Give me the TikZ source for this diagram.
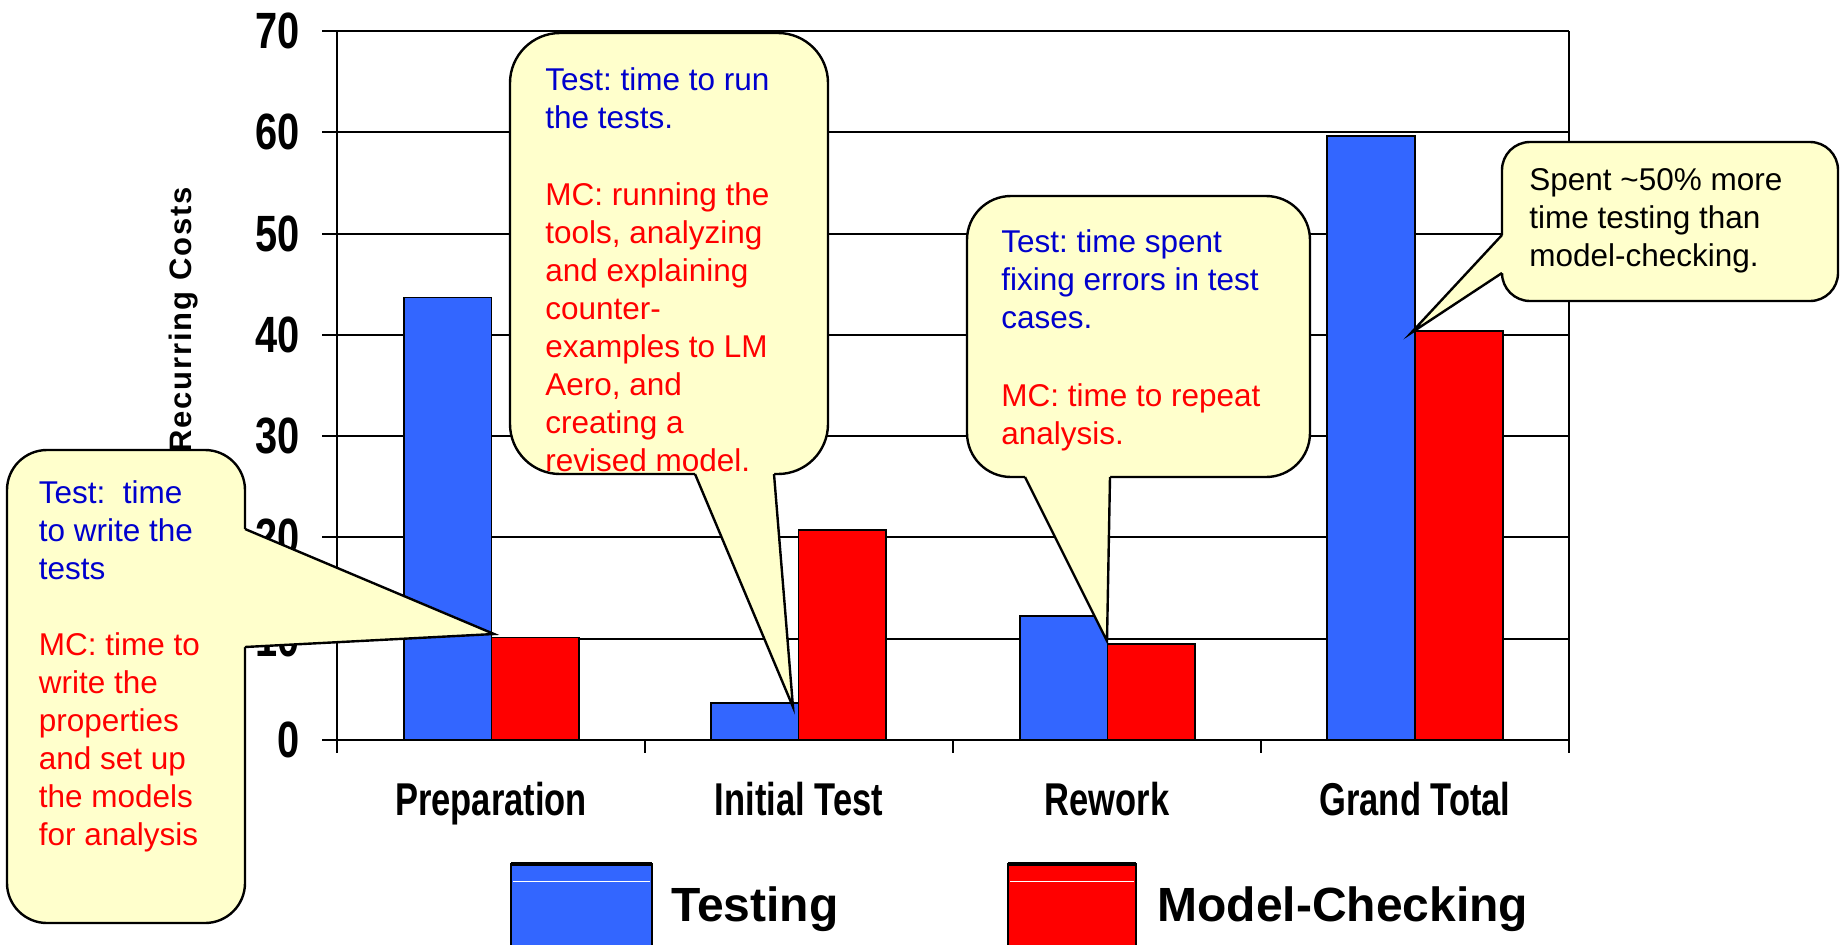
\documentclass[tikz,border=0pt]{standalone}
\usepackage{fontspec}
\setmainfont{Liberation Sans}
\newfontfamily\ylabfont{Liberation Sans}[FakeStretch=0.78]
\newfontfamily\catfont{Liberation Sans}[FakeStretch=0.75]
\newfontfamily\titlefont{Liberation Sans}[LetterSpace=6]
\definecolor{barblue}{HTML}{3366FF}
\definecolor{barred}{HTML}{FF0000}
\definecolor{notefill}{HTML}{FFFFCC}
\definecolor{testblue}{HTML}{0000CC}
\definecolor{mcred}{HTML}{FF0000}
\frenchspacing
\begin{document}
\begin{tikzpicture}[x=0.5pt,y=-0.5pt,
  gridline/.style={line width=0.95pt, black},
  axisline/.style={line width=1.3pt, black},
  bar/.style={draw=black, line width=0.85pt},
  note/.style={fill=notefill, draw=black, line width=1.2pt},
  pointer/.style={draw=black, line width=1.2pt, line join=miter},
  notetext/.style={inner sep=0pt, anchor=north west, align=left,
    font=\fontsize{15.75}{19}\selectfont\frenchspacing},
  ylab/.style={anchor=east, inner sep=0pt,
    font=\ylabfont\bfseries\fontsize{25.5}{30}\selectfont},
  catlab/.style={anchor=base, inner sep=0pt,
    font=\catfont\bfseries\fontsize{23}{28}\selectfont},
  legtext/.style={anchor=base west, inner sep=0pt,
    font=\bfseries\fontsize{24}{29}\selectfont},
]
\useasboundingbox[fill=white] (0,0) rectangle (1843,944);

% grid, ticks and frame
\foreach \v in {1,...,7}
  \draw[gridline] (322,{740-101.29*\v}) -- (1569,{740-101.29*\v});
\draw[gridline] (1569,31) -- (1569,740);

% bars: category centre / top of testing bar / top of model-checking bar
\foreach \c/\bt/\rt in {491.5/297.5/637.5, 798.5/703.3/530,
                        1107.5/615.7/643.7, 1415/135.7/330.7} {
  \filldraw[bar, fill=barblue] ({\c-87.7},740) rectangle (\c,\bt);
  \filldraw[bar, fill=barred] (\c,740) rectangle ({\c+87.7},\rt);
}

% axes
\draw[axisline] (337,31) -- (337,753);
\draw[axisline] (322,740) -- (1569,740);
\foreach \x in {645,953,1261,1569}
  \draw[gridline] (\x,740) -- (\x,753);

% value labels
\foreach \v in {0,...,7}
  \node[ylab] (yl\v) at (300,{740-101.29*\v}) {\pgfmathparse{int(10*\v)}\pgfmathresult};

% category labels
\node[catlab] (cat1) at (491,815) {Preparation};
\node[catlab] (cat2) at (799,815) {Initial Test};
\node[catlab] (cat3) at (1107,815) {Rework};
\node[catlab] (cat4) at (1415,815) {Grand Total};

% axis title
\node[rotate=90, inner sep=0pt, font=\titlefont\bfseries\fontsize{15.5}{18}\selectfont]
  (ytitle) at (184,320) {Recurring Costs};

% legend
\filldraw[fill=barblue, draw=black, line width=1pt] (511,864) rectangle (652,960);
\draw[line width=1.6pt] (511,864) -- (652,864);
\draw[white, line width=0.5pt] (513,881) -- (650,881);
\node[legtext] (legtest) at (671,921) {Testing};
\filldraw[fill=barred, draw=black, line width=1pt] (1008,864) rectangle (1136,960);
\draw[line width=1.6pt] (1008,864) -- (1136,864);
\draw[white, line width=0.5pt] (1010,881) -- (1134,881);
\node[legtext] (legmc) at (1157,921) {Model-Checking};

% callout: preparation
\coordinate (p1a) at (245,529);
\coordinate (p1b) at (245,647);
\coordinate (p1t) at (494,634);
\filldraw[note, rounded corners=20pt] (7,450) rectangle (245,923);
\fill[notefill] (240,529) -- (p1a) -- (p1t) -- (p1b) -- (240,647) -- cycle;
\draw[pointer] (p1a) -- (p1t) -- (p1b);
\node[notetext, text=testblue] (n1test) at (38.5,480)
  {Test:~ time\\to write the\\tests};
\node[notetext, text=mcred] (n1mc) at (38.5,632)
  {MC: time to\\write the\\properties\\and set up\\the models\\for analysis};

% callout: initial test
\coordinate (p2a) at (695,474);
\coordinate (p2b) at (774,474);
\coordinate (p2t) at (793,707);
\filldraw[note, rounded corners=25pt] (510,33) rectangle (828,474);
\fill[notefill] (695,469) -- (p2a) -- (p2t) -- (p2b) -- (774,469) -- cycle;
\draw[pointer] (p2a) -- (p2t) -- (p2b);
\node[notetext, text=testblue] (n2test) at (545,67)
  {Test: time to run\\the tests.};
\node[notetext, text=mcred] (n2mc) at (545,182)
  {MC: running the\\tools, analyzing\\and explaining\\counter-\\examples to LM\\Aero, and\\creating a\\revised model.};

% callout: rework
\coordinate (p3a) at (1025,477);
\coordinate (p3b) at (1110,477);
\coordinate (p3t) at (1107,641);
\filldraw[note, rounded corners=22pt] (967,196) rectangle (1310,477);
\fill[notefill] (1025,472) -- (p3a) -- (p3t) -- (p3b) -- (1110,472) -- cycle;
\draw[pointer] (p3a) -- (p3t) -- (p3b);
\node[notetext, text=testblue] (n3test) at (1001,229.6)
  {Test: time spent\\fixing errors in test\\cases.};
\node[notetext, text=mcred] (n3mc) at (1001,383.6)
  {MC: time to repeat\\analysis.};

% callout: grand total
\coordinate (p4a) at (1502,235);
\coordinate (p4b) at (1502,273);
\coordinate (p4t) at (1411,333);
\filldraw[note, rounded corners=14pt] (1502,142) rectangle (1838,301);
\fill[notefill] (1507,235) -- (p4a) -- (p4t) -- (p4b) -- (1507,273) -- cycle;
\draw[pointer] (p4a) -- (p4t) -- (p4b);
\node[notetext, text=black] (n4) at (1529,167.7)
  {Spent \textasciitilde50\% more\\time testing than\\model-checking.};
\end{tikzpicture}
\end{document}
